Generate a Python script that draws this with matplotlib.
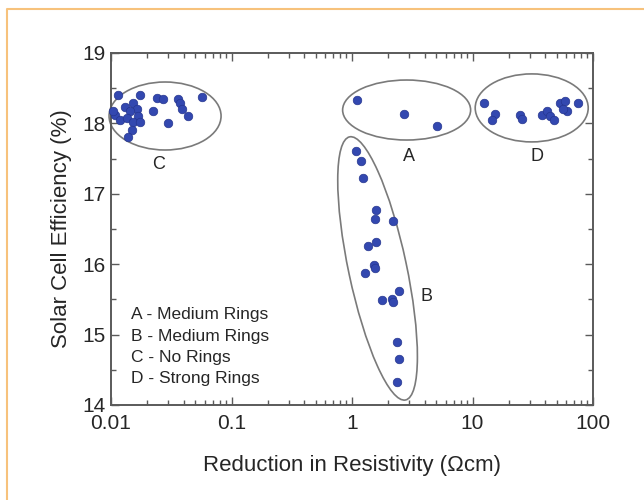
import numpy as np
import matplotlib
matplotlib.use("Agg")
import matplotlib.pyplot as plt
from matplotlib.patches import Ellipse
from matplotlib.lines import Line2D
from matplotlib.transforms import ScaledTranslation
from matplotlib.ticker import FixedLocator, FixedFormatter, NullFormatter

plt.rcParams['font.family'] = ['Liberation Sans', 'DejaVu Sans']

# Group C - no rings
c_res = [0.01150, 0.01741, 0.02395, 0.02716, 0.03618, 0.05657, 0.03738, 0.03862,
         0.04380, 0.02244, 0.02954, 0.01531, 0.01307, 0.01634, 0.01438, 0.01079,
         0.01188, 0.01685, 0.01350, 0.01531, 0.01741, 0.01485, 0.01392, 0.01045]
c_eff = [18.40, 18.41, 18.36, 18.34, 18.34, 18.37, 18.29, 18.21,
         18.11, 18.18, 18.00, 18.29, 18.24, 18.21, 18.17, 18.12,
         18.05, 18.10, 18.07, 18.02, 18.02, 17.91, 17.81, 18.17]

# Group A - medium rings
a_res = [1.11, 2.70, 5.10]
a_eff = [18.33, 18.14, 17.97]

# Group B - medium rings
b_res = [1.08, 1.18, 1.23, 1.57, 1.55, 2.20, 1.58, 1.35, 1.53, 1.55,
         1.28, 1.78, 2.13, 2.20, 2.47, 2.35, 2.45, 2.35]
b_eff = [17.61, 17.47, 17.22, 16.77, 16.64, 16.61, 16.32, 16.26, 15.99, 15.95,
         15.87, 15.49, 15.50, 15.47, 15.62, 14.90, 14.65, 14.32]

# Group D - strong rings
d_res = [12.46, 15.37, 14.43, 24.8, 25.6, 37.5, 41.3, 44.0, 47.5, 53.2,
         58.6, 61.2, 56.7, 75.5]
d_eff = [18.29, 18.14, 18.05, 18.12, 18.06, 18.12, 18.17, 18.10, 18.05, 18.29,
         18.32, 18.17, 18.21, 18.29]

x_ticks = [0.01, 0.1, 1, 10, 100]
x_tick_labels = ['0.01', '0.1', '1', '10', '100']
y_ticks = [14, 15, 16, 17, 18, 19]

legend_lines = ['A - Medium Rings', 'B - Medium Rings', 'C - No Rings', 'D - Strong Rings']

# group outlines: centre (data), width/height (inches), rotation (deg)
outlines = [
    (0.0281, 18.105, 1.12, 0.68, 0),
    (2.84, 18.19, 1.28, 0.60, 0),
    (31.0, 18.22, 1.13, 0.68, 0),
    (1.63, 15.94, 2.69, 0.58, 102),
]
group_tags = [('C', 0.0247, 17.42), ('A', 2.99, 17.53), ('D', 34.5, 17.53), ('B', 4.17, 15.54)]

W, H = 644, 500
fig = plt.figure(figsize=(W / 100, H / 100), dpi=100)
ax = fig.add_axes([111 / W, 1 - 405 / H, 482 / W, 352 / H])

ink = '#262626'
spine_col = '#5a5a5a'
dot_col = '#3348b0'

ax.set_xscale('log')
ax.set_xlim(0.01, 100)
ax.set_ylim(14, 19)

for xs, ys in [(c_res, c_eff), (a_res, a_eff), (b_res, b_eff), (d_res, d_eff)]:
    ax.scatter(xs, ys, s=38, color=dot_col, edgecolors='#26368f', linewidths=0.5,
               zorder=3, clip_on=False)

for cx, cy, w, h, ang in outlines:
    tr = fig.dpi_scale_trans + ScaledTranslation(cx, cy, ax.transData)
    ax.add_patch(Ellipse((0, 0), w, h, angle=ang, transform=tr, fill=False,
                         edgecolor='#7a7a7a', linewidth=1.2, clip_on=False, zorder=2))

for tag, tx, ty in group_tags:
    ax.text(tx, ty, tag, ha='center', va='center', fontsize=13, color=ink)

for i, line in enumerate(legend_lines):
    ax.text(0.041, 0.2557 - i * 0.0600, line, transform=ax.transAxes,
            ha='left', va='center', fontsize=12.5, color=ink)

ax.xaxis.set_major_locator(FixedLocator(x_ticks))
ax.xaxis.set_major_formatter(FixedFormatter(x_tick_labels))
ax.xaxis.set_minor_formatter(NullFormatter())
ax.yaxis.set_major_locator(FixedLocator(y_ticks))
ax.yaxis.set_minor_locator(FixedLocator([14.5, 15.5, 16.5, 17.5, 18.5]))

ax.tick_params(which='both', direction='in', top=True, right=True,
               color=spine_col, width=1.0)
ax.tick_params(which='major', length=6)
ax.tick_params(which='minor', length=3.5)
ax.tick_params(axis='x', which='major', labelsize=15, pad=6.5, labelcolor=ink)
ax.tick_params(axis='y', which='major', labelsize=15, pad=4, labelcolor=ink)

for sp in ax.spines.values():
    sp.set_color(spine_col)
    sp.set_linewidth(1.4)

ax.set_xlabel('Reduction in Resistivity (\u03a9cm)', fontsize=16, color=ink)
ax.set_ylabel('Solar Cell Efficiency (%)', fontsize=16, color=ink)
ax.xaxis.set_label_coords(0.5, -0.143)
ax.yaxis.set_label_coords(-0.08, 0.5)

# page frame
frame_col = '#f7c27c'
fig.add_artist(Line2D([7 / W, 7 / W, 1], [0, 1 - 9 / H, 1 - 9 / H],
                      transform=fig.transFigure, color=frame_col, linewidth=1.5))

fig.savefig('out.png', dpi=100, facecolor='white')
